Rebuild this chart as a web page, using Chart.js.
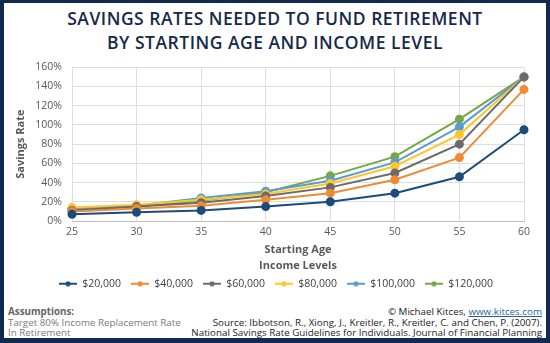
<!DOCTYPE html>
<html>
<head>
<meta charset="utf-8">
<script src="https://cdn.jsdelivr.net/npm/chart.js@4/dist/chart.umd.min.js"></script>
<style>
  html, body { margin: 0; padding: 0; background: #fff; }
  #frame {
    position: relative; width: 550px; height: 343px; box-sizing: border-box;
    border-style: solid; border-color: #0f2b4f;
    border-width: 3px 4px 5px 4px; background: #fff; overflow: hidden;
    font-family: "Open Sans", sans-serif;
  }
  #title {
    position: absolute; left: 0; right: 0; top: 4px; text-align: center;
    font-weight: 600; font-size: 17.5px; line-height: 23.5px; color: #15294a; letter-spacing: 0.5px;
  }
  #wrap { position: absolute; left: 0; top: 48px; width: 542px; height: 248px; }
  .foot { position: absolute; line-height: 10.7px; font-size: 9.8px; }
  #assume { left: 4px; top: 304px; color: #7a7a7a; }
  #assume b { color: #666; }
  #source { right: 4px; top: 304px; text-align: right; color: #222; }
  #source a { color: #1f5fa8; text-decoration: underline; }
</style>
</head>
<body>
<div id="frame">
  <div id="title">SAVINGS RATES NEEDED TO FUND RETIREMENT<br>BY STARTING AGE AND INCOME LEVEL</div>
  <div id="wrap"><canvas id="chart"></canvas></div>
  <div class="foot" id="assume"><b>Assumptions:</b><br>Target 80% Income Replacement Rate<br>In Retirement</div>
  <div class="foot" id="source">© Michael Kitces, <a>www.kitces.com</a><br>Source: Ibbotson, R., Xiong, J., Kreitler, R., Kreitler, C. and Chen, P. (2007).<br>National Savings Rate Guidelines for Individuals. Journal of Financial Planning</div>
</div>
<script>
// data (savings rate in %)
const ages = [25, 30, 35, 40, 45, 50, 55, 60];
const incomeLabels = ['$20,000', '$40,000', '$60,000', '$80,000', '$100,000', '$120,000'];
const rate20k  = [7, 9, 11, 15, 20, 29, 46, 95];
const rate40k  = [10, 13, 16, 22, 29, 43, 66, 137];
const rate60k  = [11, 15, 19, 26, 35, 50, 80, 150];
const rate80k  = [14, 17, 22, 28, 39, 57, 90, 150];
const rate100k = [13, 16, 24, 31, 42, 61, 98, 150];
const rate120k = [12, 15, 21, 30, 47, 67, 106, 150];
const yTicks = [0, 20, 40, 60, 80, 100, 120, 140, 160];

const seriesValues = [rate20k, rate40k, rate60k, rate80k, rate100k, rate120k];
const colors = ['#1c4b7d', '#ef8a35', '#6b6b6b', '#ffc52b', '#5b9bd5', '#72a84a'];

// little line+dot marker for the legend
function legendMarker(color){
    const c = document.createElement('canvas');
    c.width = 18; c.height = 6;
    const g = c.getContext('2d');
    g.strokeStyle = color; g.lineWidth = 2;
    g.beginPath(); g.moveTo(0, 3); g.lineTo(18, 3); g.stroke();
    g.fillStyle = color;
    g.beginPath(); g.arc(9, 3, 2.6, 0, Math.PI*2); g.fill();
    return c;
}

const datasets = incomeLabels.map((lbl, i) => ({
    label: lbl,
    data: seriesValues[i],
    borderColor: colors[i],
    backgroundColor: colors[i],
    borderWidth: 2,
    pointRadius: 3.5,
    pointHoverRadius: 3.5,
    tension: 0
}));

const grey = '#595959';

// legend in the original sits a bit right of the canvas centre
const legendShift = {
    id: 'legendShift',
    afterLayout(chart){ chart.legend.left += 12; chart.legend.right += 12; }
};

new Chart(document.getElementById('chart'), {
    type: 'line',
    data: { labels: ages, datasets: datasets },
    plugins: [legendShift],
    options: {
        responsive: true,
        maintainAspectRatio: false,
        animation: false,
        layout: { padding: { left: 0, right: 22, top: 5, bottom: 0 } },
        plugins: {
            tooltip: { enabled: false },
            legend: {
                position: 'bottom',
                labels: {
                    color: '#404040', font: { family: 'Open Sans', size: 10.5 },
                    usePointStyle: true, pointStyleWidth: 18, boxHeight: 6, padding: 10,
                    generateLabels: chart => chart.data.datasets.map((ds, i) => ({
                        text: ds.label, pointStyle: legendMarker(colors[i]),
                        fillStyle: colors[i], strokeStyle: colors[i], lineWidth: 0,
                        fontColor: '#404040', datasetIndex: i, hidden: false
                    }))
                }
            }
        },
        scales: {
            x: {
                grid: { color: '#dedede', drawTicks: false },
                border: { color: '#bfbfbf' },
                ticks: { color: grey, font: { family: 'Open Sans', size: 10.5 }, padding: 5, maxRotation: 0 },
                title: { display: true, text: ['Starting Age', 'Income Levels'], color: grey,
                         font: { family: 'Open Sans', size: 11, weight: 'bold', lineHeight: 1.45 },
                         padding: { top: -2, bottom: -5 } }
            },
            y: {
                min: 0, max: 160,
                afterBuildTicks: s => { s.ticks = yTicks.map(v => ({ value: v })); },
                afterFit: s => { s.width = 68; },
                grid: { color: '#dedede', drawTicks: false },
                border: { color: '#dedede' },
                ticks: { color: grey, font: { family: 'Open Sans', size: 10.5 }, padding: 10, callback: v => v + '%' },
                title: { display: true, text: 'Savings Rate', color: grey, padding: { top: 10, bottom: 4 },
                         font: { family: 'Open Sans', size: 11, weight: 'bold' } }
            }
        }
    }
});
</script>
</body>
</html>
